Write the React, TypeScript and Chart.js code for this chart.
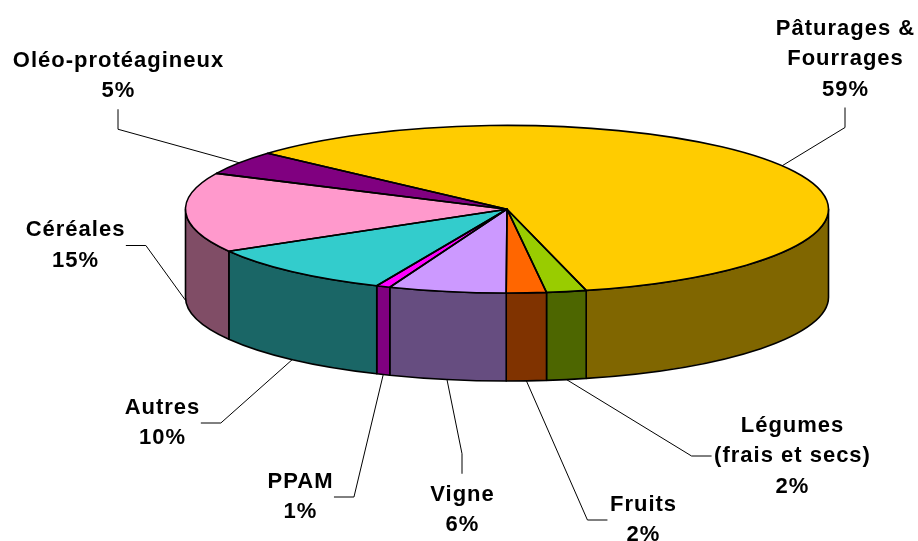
import React, { useEffect, useRef } from 'react';
import { Chart, registerables } from 'chart.js';

Chart.register(...registerables);

// ---- data ----
const CATEGORIES: string[][] = [
  ['Pâturages &', 'Fourrages'],
  ['Légumes', '(frais et secs)'],
  ['Fruits'],
  ['Vigne'],
  ['PPAM'],
  ['Autres'],
  ['Céréales'],
  ['Oléo-protéagineux'],
];
const SHARES: number[] = [59.4, 2.0, 2.0, 5.9, 0.7, 10.0, 15.4, 4.6];
const TOP_COLORS: string[] = ['#FFCC00', '#99CC00', '#FF6600', '#CC99FF', '#FF00FF', '#33CCCC', '#FF99CC', '#800080'];
const SIDE_COLORS: string[] = ['#806600', '#4D6600', '#803300', '#664D80', '#800080', '#1A6666', '#804D66', '#400040'];

// ---- label layout (text block centres and leader side) ----
const LABEL_CX: number[] = [845, 792, 643, 462, 300, 162, 75, 118];
const LABEL_CY: number[] = [59, 456, 520, 510, 497, 423, 245.5, 76];
const LABEL_LEADER: string[] = ['bottom', 'left', 'left', 'top', 'right', 'right', 'right', 'bottom'];

// ---- 3D geometry ----
const CX = 507;
const CY = 209.2;
const RX = 321.5;
const RY = 83.8;
const DEPTH = 88;
const LINE_H = 30.5;
const FONT = 'bold 22px "Liberation Sans", Arial, sans-serif';

const pie3d = {
  id: 'pie3d',
  beforeDatasetsDraw(chart: any) {
    const ctx: CanvasRenderingContext2D = chart.ctx;
    const arcs = chart.getDatasetMeta(0).data as any[];
    ctx.save();
    ctx.lineJoin = 'round';
    ctx.strokeStyle = '#000';
    ctx.lineWidth = 1.6;
    // side walls (front half only)
    arcs.forEach((arc, i) => {
      const s = arc.startAngle, e = arc.endAngle;
      for (let k = -2; k <= 3; k++) {
        const lo = Math.max(s, 2 * Math.PI * k);
        const hi = Math.min(e, 2 * Math.PI * k + Math.PI);
        if (hi <= lo) continue;
        ctx.beginPath();
        ctx.ellipse(CX, CY, RX, RY, 0, lo, hi, false);
        ctx.lineTo(CX + RX * Math.cos(hi), CY + DEPTH + RY * Math.sin(hi));
        ctx.ellipse(CX, CY + DEPTH, RX, RY, 0, hi, lo, true);
        ctx.closePath();
        ctx.fillStyle = SIDE_COLORS[i];
        ctx.fill();
        ctx.stroke();
      }
    });
    // top faces drawn by the arc elements themselves, squashed into an ellipse
    arcs.forEach((arc) => {
      const R = arc.outerRadius;
      ctx.save();
      ctx.translate(CX, CY);
      ctx.scale(RX / R, RY / R);
      ctx.translate(-arc.x, -arc.y);
      arc.draw(ctx);
      ctx.restore();
    });
    // outlines of top faces
    arcs.forEach((arc) => {
      const s = arc.startAngle, e = arc.endAngle;
      ctx.beginPath();
      ctx.moveTo(CX, CY);
      ctx.lineTo(CX + RX * Math.cos(s), CY + RY * Math.sin(s));
      ctx.ellipse(CX, CY, RX, RY, 0, s, e, false);
      ctx.closePath();
      ctx.stroke();
    });
    ctx.restore();
    return false;
  },
  afterDraw(chart: any) {
    const ctx: CanvasRenderingContext2D = chart.ctx;
    const arcs = chart.getDatasetMeta(0).data as any[];
    ctx.save();
    ctx.font = FONT;
    (ctx as any).letterSpacing = '1px';
    ctx.fillStyle = '#000';
    ctx.textAlign = 'center';
    ctx.textBaseline = 'middle';
    arcs.forEach((arc, i) => {
      const lines = [...CATEGORIES[i], Math.round(SHARES[i]) + '%'];
      const n = lines.length;
      const cx = LABEL_CX[i];
      const cy = LABEL_CY[i];
      const firstY = cy - ((n - 1) * LINE_H) / 2;
      const lastY = cy + ((n - 1) * LINE_H) / 2;
      let maxW = 0;
      lines.forEach((t, j) => {
        ctx.fillText(t, cx + 0.5, firstY + j * LINE_H);
        maxW = Math.max(maxW, ctx.measureText(t).width);
      });
      // leader line
      const mid = (arc.startAngle + arc.endAngle) / 2;
      const sn = Math.sin(mid);
      const px = CX + RX * Math.cos(mid);
      const py = (sn < 0 ? CY : CY + DEPTH) + RY * sn;
      let ax = cx, ay = cy, ex = cx, ey = cy;
      const side = LABEL_LEADER[i];
      if (side === 'bottom') { ay = lastY + 18; ex = cx; ey = ay + 20; }
      else if (side === 'top') { ay = firstY - 21; ex = cx; ey = ay - 20; }
      else if (side === 'right') { ax = cx + maxW / 2 + 1; ex = ax + 20; ey = cy; }
      else { ax = cx - maxW / 2 - 2; ex = ax - 20; ey = cy; }
      ctx.beginPath();
      ctx.strokeStyle = '#000';
      ctx.lineWidth = 1;
      ctx.moveTo(ax, ay);
      ctx.lineTo(ex, ey);
      ctx.lineTo(px, py);
      ctx.stroke();
    });
    ctx.restore();
  },
};

export default function App() {
  const ref = useRef<HTMLCanvasElement | null>(null);
  useEffect(() => {
    if (!ref.current) return;
    const chart = new Chart(ref.current, {
      type: 'pie',
      data: {
        labels: CATEGORIES.map((l) => l.join(' ')),
        datasets: [
          {
            data: SHARES,
            backgroundColor: TOP_COLORS,
            borderWidth: 0,
          },
        ],
      },
      options: {
        responsive: false,
        animation: false,
        rotation: 311.9,
        events: [],
        plugins: {
          legend: { display: false },
          tooltip: { enabled: false },
        },
      },
      plugins: [pie3d as any],
    });
    return () => chart.destroy();
  }, []);
  return (
    <div style={{ position: 'fixed', left: 0, top: 0, width: 918, height: 541, background: '#fff' }}>
      <canvas ref={ref} width={918} height={541} style={{ display: 'block' }} />
    </div>
  );
}
